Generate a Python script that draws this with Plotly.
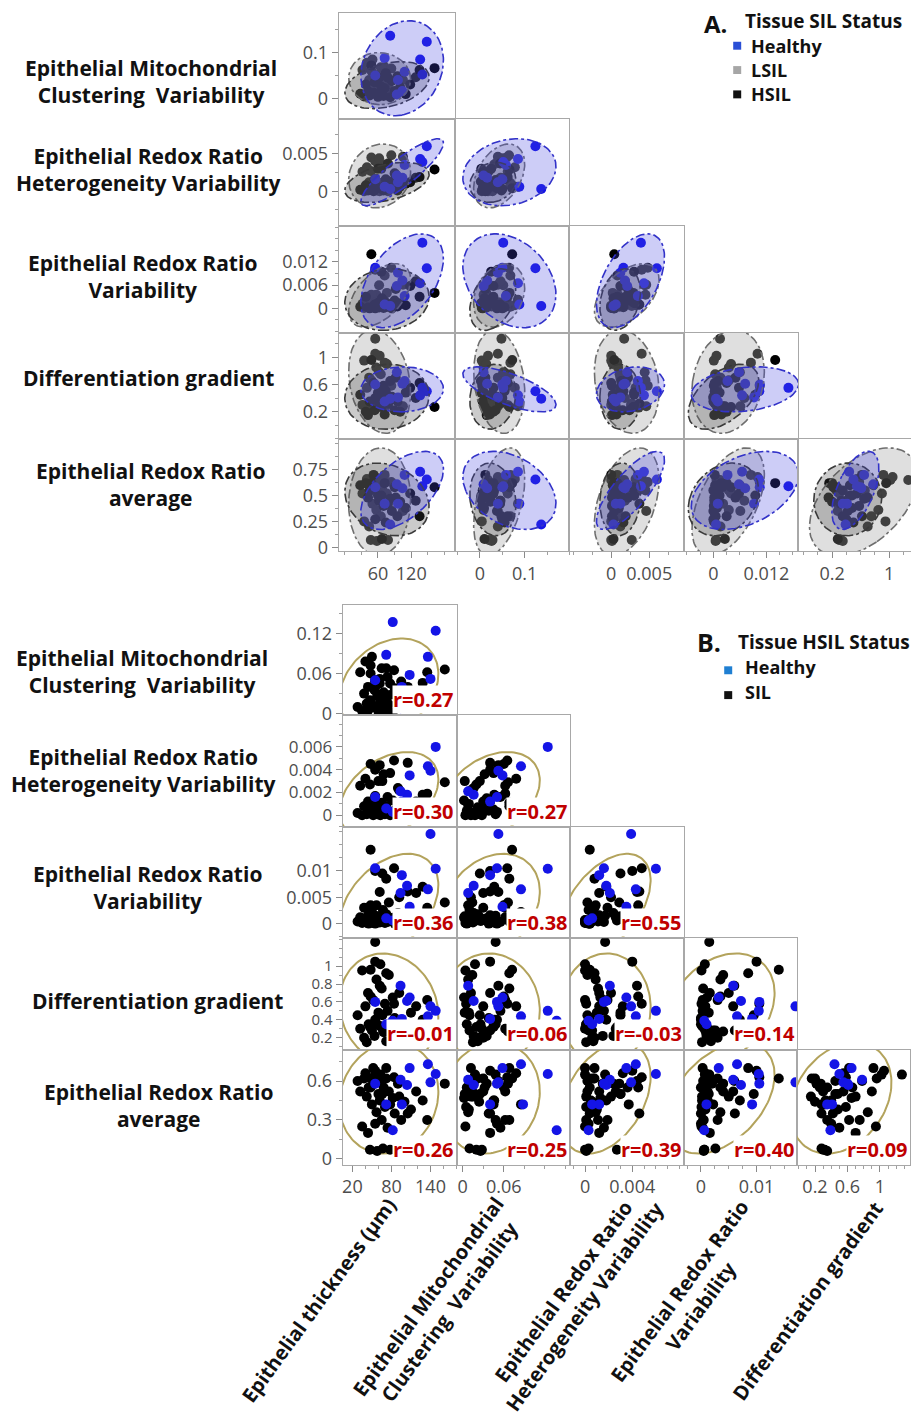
import numpy as np
import plotly.graph_objects as go

# ---------------- data (one entry per tissue site) ----------------
thickness = [148, 82, 140, 96, 104, 136, 94, 108, 55, 72,
             28, 32, 35, 38, 40, 42, 44, 45, 47, 50, 52, 54, 55, 57, 58, 60, 62, 63, 65, 67, 68, 70,
             72, 74, 76, 78, 82, 85, 90, 95, 100, 110,
             48, 55, 62, 66, 72, 78, 84, 92, 105, 118, 128, 135,
             162, 55, 48]
mito_var = [0.124, 0.137, 0.052, 0.040, 0.016, 0.085, 0.008, 0.058, 0.050, 0.088,
            0.010, 0.062, 0.004, 0.030, 0.078, 0.015, 0.040, 0.006, 0.020, 0.085, 0.012, 0.035, 0.050,
            0.008, 0.026, 0.003, 0.045, 0.018, 0.068, 0.010, 0.032, 0.005, 0.022, 0.055, 0.014, 0.028,
            0.002, 0.038, 0.016, 0.048, 0.024, 0.009,
            0.060, 0.040, 0.052, 0.025, 0.068, 0.045, 0.065, 0.012, 0.040, 0.030, 0.046, 0.062,
            0.066, 0.048, 0.072]
hetero_var = [0.0060, 0.0003, 0.0039, 0.0012, 0.0018, 0.0043, 0.0021, 0.0035, 0.0016, 0.0006,
              0.0002, 0.0026, 0.0000, 0.0008, 0.0032, 0.0001, 0.0012, 0.0004, 0.0027, 0.0006, 0.0000,
              0.0015, 0.0003, 0.0009, 0.0001, 0.0030, 0.0005, 0.0000, 0.0011, 0.0003, 0.0036, 0.0001,
              0.0007, 0.0016, 0.0002, 0.0000, 0.0013, 0.0004, 0.0024, 0.0001, 0.0006, 0.0010,
              0.0045, 0.0040, 0.0044, 0.0030, 0.0008, 0.0037, 0.0048, 0.0022, 0.0046, 0.0012, 0.0018, 0.0019,
              0.0029, 0.0017, 0.0004]
redox_var = [0.0104, 0.0006, 0.0170, 0.0092, 0.0072, 0.0065, 0.0058, 0.0032, 0.0105, 0.0010,
             0.0004, 0.0012, 0.0001, 0.0030, 0.0008, 0.0002, 0.0016, 0.0000, 0.0006, 0.0022, 0.0003,
             0.0010, 0.0000, 0.0035, 0.0005, 0.0014, 0.0002, 0.0007, 0.0004, 0.0026, 0.0009, 0.0001,
             0.0018, 0.0003, 0.0040, 0.0006, 0.0011, 0.0000, 0.0020, 0.0005, 0.0013, 0.0008,
             0.0035, 0.0100, 0.0060, 0.0095, 0.0085, 0.0010, 0.0105, 0.0050, 0.0061, 0.0058, 0.0070, 0.0030,
             0.0040, 0.0015, 0.0140]
diff_grad = [0.50, 0.39, 0.55, 0.41, 0.61, 0.44, 0.78, 0.65, 0.60, 0.35,
             0.45, 0.30, 0.95, 0.20, 0.55, 0.15, 0.70, 0.35, 0.32, 0.28, 0.62, 0.22, 0.40, 0.85, 0.35,
             0.48, 0.33, 1.02, 0.75, 0.28, 0.26, 0.58, 0.16, 0.50, 0.90, 0.30, 0.65, 0.42, 0.22, 0.35,
             0.20, 0.48,
             0.66, 1.05, 0.78, 0.45, 0.92, 0.32, 0.58, 0.70, 0.28, 0.55, 0.40, 0.62,
             0.27, 1.27, 0.96]
redox_avg = [0.655, 0.22, 0.59, 0.42, 0.57, 0.73, 0.61, 0.70, 0.58, 0.42,
             0.60, 0.52, 0.25, 0.62, 0.66, 0.48, 0.20, 0.55, 0.07, 0.42, 0.70, 0.58, 0.27, 0.36, 0.06,
             0.50, 0.45, 0.65, 0.30, 0.08, 0.55, 0.40, 0.62, 0.24, 0.52, 0.07, 0.47, 0.35, 0.58, 0.30,
             0.44, 0.38,
             0.55, 0.68, 0.60, 0.50, 0.70, 0.42, 0.63, 0.48, 0.35, 0.52, 0.45, 0.30,
             0.58, 0.65, 0.62]
sil_status = (["Healthy"] * 10 +
              ["HSIL", "LSIL", "LSIL", "HSIL", "LSIL", "HSIL", "LSIL", "HSIL", "LSIL", "LSIL",
               "HSIL", "HSIL", "HSIL", "LSIL", "LSIL", "HSIL", "HSIL", "LSIL", "LSIL", "HSIL",
               "LSIL", "HSIL", "HSIL", "HSIL", "LSIL", "LSIL", "HSIL", "HSIL", "HSIL", "HSIL",
               "HSIL", "HSIL"] +
              ["LSIL", "LSIL", "LSIL", "HSIL", "LSIL", "HSIL", "LSIL", "HSIL", "LSIL", "HSIL", "LSIL", "HSIL"] +
              ["HSIL", "LSIL", "HSIL"])

# correlation labels of panel B (lower triangle, row by row)
r_labels = [["r=0.27"],
            ["r=0.30", "r=0.27"],
            ["r=0.36", "r=0.38", "r=0.55"],
            ["r=-0.01", "r=0.06", "r=-0.03", "r=0.14"],
            ["r=0.26", "r=0.25", "r=0.39", "r=0.40", "r=0.09"]]

row_names = ["Epithelial Mitochondrial<br>Clustering\u00a0 Variability",
             "Epithelial Redox Ratio<br>Heterogeneity Variability",
             "Epithelial Redox Ratio<br>Variability",
             "Differentiation gradient",
             "Epithelial Redox Ratio<br>average"]
col_names = ["Epithelial thickness (µm)",
             "Epithelial Mitochondrial<br>Clustering\u00a0 Variability",
             "Epithelial Redox Ratio<br>Heterogeneity Variability",
             "Epithelial Redox Ratio<br>Variability",
             "Differentiation gradient"]

# ---------------- helpers ----------------
OFF = 8                      # default page margin of the html body
W, HGT = 919 - OFF, 1422 - OFF
def PX(x): return (x - OFF) / W
def PY(y): return 1 - (y - OFF) / HGT

variables = [np.array(thickness, float), np.array(mito_var, float), np.array(hetero_var, float),
             np.array(redox_var, float), np.array(diff_grad, float), np.array(redox_avg, float)]
status = np.array(sil_status)

def ellipse(x, y, n=120):
    x = np.asarray(x); y = np.asarray(y)
    cov = np.cov(x, y)
    vals, vecs = np.linalg.eigh(cov)
    vals = np.clip(vals, 0, None)
    t = np.linspace(0, 2 * np.pi, n)
    circ = np.vstack([np.cos(t), np.sin(t)])
    pts = vecs @ (np.sqrt(vals)[:, None] * circ) * np.sqrt(5.991)
    return x.mean() + pts[0], y.mean() + pts[1]

TICKFONT = dict(family="Open Sans", size=18, color="#4d4d4d")
LABFONT = dict(family="Open Sans", size=21, color="#111111")

panels = {
    "A": dict(cols=[338, 454, 569, 684, 798, 913], rows=[13, 120, 228, 335, 442, 555],
              xr=[[-11, 198], [-0.057, 0.20], [-0.0055, 0.0096], [-0.0066, 0.0192], [-0.277, 1.337]],
              yr=[[-0.046, 0.187], [-0.0047, 0.0096], [-0.0063, 0.0212], [-0.2, 1.36], [-0.038, 1.048]],
              xt=[([60, 120], 30, 0), ([0, 0.1], 0.05, 0), ([0, 0.005], 0.0025, 0), ([0, 0.012], 0.003, 0),
                  ([0.2, 1], 0.2, 0)],
              yt=[([0, 0.1], 0.05, 0), ([0, 0.005], 0.0025, 0), ([0, 0.006, 0.012], 0.003, 0),
                  ([0.2, 0.6, 1], 0.2, 0), ([0, 0.25, 0.5, 0.75], 0.125, 0)],
              xtxt=[["60", "120"], ["0", "0.1"], ["0", "0.005"], ["0", "0.012"], ["0.2", "1"]],
              ytxt=[["0", "0.1"], ["0", "0.005"], ["0", "0.006", "0.012"], ["0.2", "0.6", "1"],
                    ["0", "0.25", "0.5", "0.75"]],
              yfs=[18, 18, 18, 18, 18]),
    "B": dict(cols=[342, 456, 570, 684, 797, 910], rows=[609, 720, 833, 945, 1057, 1173],
              xr=[[5, 180], [-0.009, 0.157], [-0.00124, 0.0084], [-0.003, 0.0173], [-0.02, 1.37]],
              yr=[[-0.002, 0.163], [-0.00104, 0.0088], [-0.0028, 0.0183], [0.067, 1.31], [-0.046, 0.843]],
              xt=[([20, 80, 140], 20, 20), ([0, 0.06], 0.03, 0), ([0, 0.004], 0.001, 0), ([0, 0.01], 0.0025, 0),
                  ([0.2, 0.6, 1], 0.1, 0)],
              yt=[([0, 0.06, 0.12], 0.03, 0), ([0, 0.002, 0.004, 0.006], 0.001, 0), ([0, 0.005, 0.01], 0.0025, 0),
                  ([0.2, 0.4, 0.6, 0.8, 1], 0.1, 0), ([0, 0.3, 0.6], 0.15, 0)],
              xtxt=[["20", "80", "140"], ["0", "0.06"], ["0", "0.004"], ["0", "0.01"], ["0.2", "0.6", "1"]],
              ytxt=[["0", "0.06", "0.12"], ["0", "0.002", "0.004", "0.006"], ["0", "0.005", "0.01"],
                    ["0.2", "0.4", "0.6", "0.8", "1"], ["0", "0.3", "0.6"]],
              yfs=[18, 17, 18, 15, 18]),
}

def axis_cfg(domain, rng, show, tv, tt, mdt, m0, anchor, fs=18):
    d = dict(domain=domain, range=rng, anchor=anchor, showline=True, mirror=True,
             linecolor="#a8a8a8", linewidth=1, showgrid=False, zeroline=False, fixedrange=True)
    if show:
        d.update(ticks="outside", ticklen=6, tickcolor="#8a8a8a", tickwidth=1, tickmode="array",
                 tickvals=tv, ticktext=tt, showticklabels=True, tickfont=dict(TICKFONT, size=fs),
                 minor=dict(ticks="outside", ticklen=3, tickcolor="#a0a0a0", tickmode="linear",
                            tick0=m0, dtick=mdt))
    else:
        d.update(ticks="", showticklabels=False)
    return d

fig = go.Figure()
layout = dict(width=W, height=HGT, margin=dict(l=0, r=0, t=0, b=0), paper_bgcolor="white",
              plot_bgcolor="white", showlegend=False)
annotations = []
shapes = []

COL_H = "#1414e6"
n = 0
for pname, P in panels.items():
    for i in range(5):
        for j in range(i + 1):
            n += 1
            xs = "" if n == 1 else str(n)
            xa, ya = "x" + xs, "y" + xs
            xdom = [PX(P["cols"][j]), PX(P["cols"][j + 1])]
            ydom = [PY(P["rows"][i + 1]), PY(P["rows"][i])]
            tvx, mdx, m0x = P["xt"][j]
            tvy, mdy, m0y = P["yt"][i]
            layout["xaxis" + xs] = axis_cfg(xdom, P["xr"][j], i == 4, tvx, P["xtxt"][j], mdx, m0x, ya)
            layout["yaxis" + xs] = axis_cfg(ydom, P["yr"][i], j == 0, tvy, P["ytxt"][i], mdy, m0y, xa,
                                            P["yfs"][i])
            xv = variables[j]
            yv = variables[i + 1]
            if pname == "A":
                for g, col in [("LSIL", "#1c1c1c"), ("HSIL", "#000000"), ("Healthy", COL_H)]:
                    m = status == g
                    fig.add_trace(go.Scatter(x=xv[m], y=yv[m], mode="markers", xaxis=xa, yaxis=ya,
                                             marker=dict(size=10, color=col), hoverinfo="skip"))
                for g, fillc, linec in [("LSIL", "rgba(150,150,150,0.30)", "#6e6e6e"),
                                        ("HSIL", "rgba(70,70,70,0.28)", "#3a3a3a"),
                                        ("Healthy", "rgba(70,70,225,0.27)", "#3232c8")]:
                    m = status == g
                    ex, ey = ellipse(xv[m], yv[m])
                    fig.add_trace(go.Scatter(x=ex, y=ey, mode="lines", fill="toself", fillcolor=fillc,
                                             line=dict(color=linec, width=1.6, dash="dashdot"),
                                             xaxis=xa, yaxis=ya, hoverinfo="skip"))
            else:
                ex, ey = ellipse(xv, yv)
                fig.add_trace(go.Scatter(x=ex, y=ey, mode="lines", line=dict(color="#b3a35c", width=2),
                                         xaxis=xa, yaxis=ya, hoverinfo="skip"))
                for g, col in [("SIL", "#000000"), ("Healthy", COL_H)]:
                    m = (status == "Healthy") if g == "Healthy" else (status != "Healthy")
                    fig.add_trace(go.Scatter(x=xv[m], y=yv[m], mode="markers", xaxis=xa, yaxis=ya,
                                             marker=dict(size=10, color=col), hoverinfo="skip"))
                annotations.append(dict(text="<b>" + r_labels[i][j] + "</b>", xref=xa + " domain",
                                        yref=ya + " domain", x=0.99, y=0.01, xanchor="right",
                                        yanchor="bottom", showarrow=False, bgcolor="white", borderpad=0,
                                        font=dict(family="Open Sans", size=20, color="#c00000")))

# row labels
rowA = [(150, 82), (148, 171), (142, 278), (148, 381), (150, 488)]
rowB = [(141, 676), (143, 776), (147, 894), (157, 1008), (158, 1113)]
for (x, y), t in zip(rowA + rowB, row_names + row_names):
    annotations.append(dict(text="<b>" + t + "</b>", x=PX(x), y=PY(y), xref="paper", yref="paper",
                            showarrow=False, xanchor="center", yanchor="middle", align="center", font=LABFONT))

# rotated column labels (panel B)
colpos = [(318, 1310), (438, 1314), (574, 1308), (690, 1308), (808, 1310)]
for (x, y), t in zip(colpos, col_names):
    annotations.append(dict(text="<b>" + t + "</b>", x=PX(x), y=PY(y), xref="paper", yref="paper",
                            showarrow=False, xanchor="center", yanchor="middle", align="center",
                            textangle=-54, font=dict(LABFONT, size=20)))

# legends
def txt(s, x, y, size, anchor="left"):
    annotations.append(dict(text="<b>" + s + "</b>", x=PX(x), y=PY(y), xref="paper", yref="paper",
                            showarrow=False, xanchor=anchor, yanchor="middle",
                            font=dict(family="Open Sans", size=size, color="#111111")))

def sq(x, y, color):
    shapes.append(dict(type="rect", xref="paper", yref="paper", x0=PX(x - 4), x1=PX(x + 4),
                       y0=PY(y + 4), y1=PY(y - 4), fillcolor=color, line=dict(width=0)))

txt("A.", 702, 24, 24)
txt("Tissue SIL Status", 743, 21, 19)
for lab, yy, c in [("Healthy", 46, "#2a4fd6"), ("LSIL", 70.5, "#a6a6a6"), ("HSIL", 95, "#111111")]:
    sq(737, yy, c)
    txt(lab, 749, yy, 18)

txt("B.", 695, 647, 25)
txt("Tissue HSIL Status", 736, 647, 19)
for lab, yy, c in [("Healthy", 672, "#1f7fd2"), ("SIL", 697, "#111111")]:
    sq(728, yy + 3, c)
    txt(lab, 743, yy, 18)

layout["annotations"] = annotations
layout["shapes"] = shapes
fig.update_layout(**layout)
fig.write_html("out.html")
